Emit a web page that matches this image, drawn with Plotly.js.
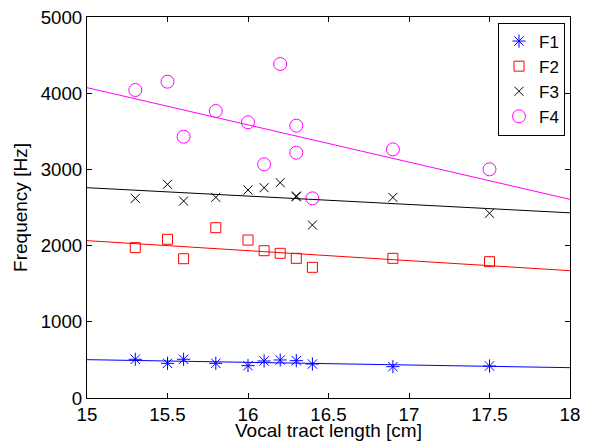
<!DOCTYPE html>
<html>
<head>
<meta charset="utf-8">
<script src="https://cdn.plot.ly/plotly-3.0.1.min.js"></script>
<style>html,body{margin:0;padding:0;background:#fff;}#chart{width:590px;height:446px;}</style>
</head>
<body>
<div id="chart"></div>
<script>
const lengthX = [15.3, 15.5, 15.6, 15.8, 16.0, 16.1, 16.2, 16.3, 16.4, 16.9, 17.5];
const f1 = [508, 455, 508, 455, 424, 486, 499, 490, 446, 411, 420];
const f2 = [1973, 2083, 1828, 2235, 2073, 1933, 1899, 1833, 1715, 1833, 1789];
const f3X = [15.3, 15.5, 15.6, 15.8, 16.0, 16.1, 16.2, 16.3, 16.3, 16.4, 16.9, 17.5];
const f3 = [2620, 2804, 2585, 2633, 2730, 2760, 2826, 2651, 2640, 2270, 2633, 2424];
const f4X = [15.3, 15.5, 15.6, 15.8, 16.0, 16.1, 16.2, 16.3, 16.3, 16.4, 16.9, 17.5];
const f4 = [4042, 4151, 3429, 3766, 3618, 3066, 4383, 3574, 3219, 2620, 3263, 3001];
const fitX = [15, 18];
const fit1 = [503, 398];
const fit2 = [2065, 1671];
const fit3 = [2760, 2430];
const fit4 = [4073, 2607];
const names = ['F1', 'F2', 'F3', 'F4'];
const colors = ['#0000ff', '#ff0000', '#000000', '#ff00ff'];
const xTitle = 'Vocal tract length [cm]';
const yTitle = 'Frequency [Hz]';

const font = 'Liberation Sans, Arial, Helvetica, sans-serif';
const traces = [
  {x: lengthX, y: f1, name: names[0], mode: 'markers', type: 'scatter',
   marker: {symbol: 'asterisk-open', size: 11, color: colors[0], line: {width: 1, color: colors[0]}}},
  {x: lengthX, y: f2, name: names[1], mode: 'markers', type: 'scatter',
   marker: {symbol: 'square-open', size: 10, color: colors[1], line: {width: 1, color: colors[1]}}},
  {x: f3X, y: f3, name: names[2], mode: 'markers', type: 'scatter',
   marker: {symbol: 'x-thin-open', size: 9, color: colors[2], line: {width: 1, color: colors[2]}}},
  {x: f4X, y: f4, name: names[3], mode: 'markers', type: 'scatter',
   marker: {symbol: 'circle-open', size: 13, color: colors[3], line: {width: 1, color: colors[3]}}},
  {x: fitX, y: fit1, mode: 'lines', showlegend: false, line: {color: colors[0], width: 1}},
  {x: fitX, y: fit2, mode: 'lines', showlegend: false, line: {color: colors[1], width: 1}},
  {x: fitX, y: fit3, mode: 'lines', showlegend: false, line: {color: colors[2], width: 1}},
  {x: fitX, y: fit4, mode: 'lines', showlegend: false, line: {color: colors[3], width: 1}}
];

const layout = {
  width: 590, height: 446,
  margin: {l: 87, r: 20, t: 17, b: 48},
  paper_bgcolor: '#fff', plot_bgcolor: '#fff',
  font: {family: font, size: 18.7, color: '#000'},
  showlegend: true,
  legend: {x: 1 - 5 / 483, y: 1 - 5.5 / 381, xanchor: 'right', yanchor: 'top', bordercolor: '#000', borderwidth: 1,
           bgcolor: '#fff', font: {size: 17, family: font, color: '#000'}, tracegroupgap: 0, itemwidth: 30},
  annotations: [{text: xTitle, xref: 'paper', yref: 'paper', x: 0.5, y: -(430 - 398) / 381,
                 xanchor: 'center', yanchor: 'middle', showarrow: false, font: {size: 19}}],
  xaxis: {range: [15, 18], dtick: 0.5, tick0: 15, showgrid: false, zeroline: false,
          showline: true, linecolor: '#000', linewidth: 1, mirror: 'ticks',
          ticks: 'inside', ticklen: 5, tickcolor: '#000',
          tickfont: {size: 18.7}},
  yaxis: {range: [0, 5000], dtick: 1000, showgrid: false, zeroline: false,
          showline: true, linecolor: '#000', linewidth: 1, mirror: 'ticks',
          ticks: 'inside', ticklen: 5, tickcolor: '#000',
          tickfont: {size: 18.7}, title: {text: yTitle, font: {size: 19}, standoff: 8}}
};
Plotly.newPlot('chart', traces, layout, {displayModeBar: false, staticPlot: true});
</script>
</body>
</html>
